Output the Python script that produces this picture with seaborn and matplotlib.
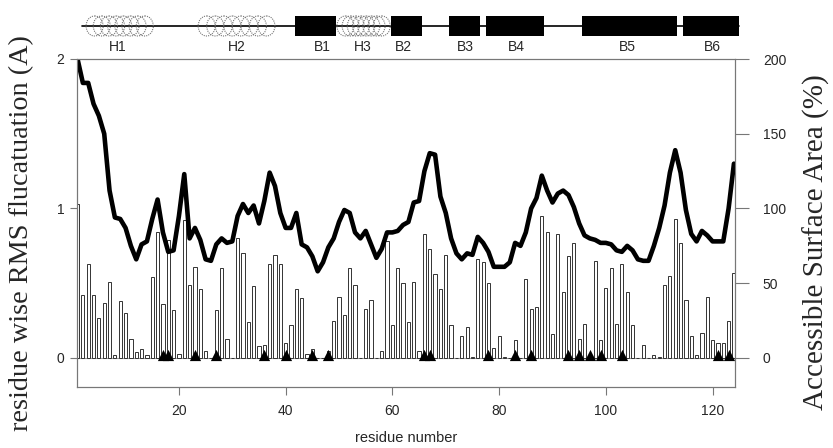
import numpy as np
import matplotlib
matplotlib.use("Agg")
import matplotlib.pyplot as plt
from matplotlib.patches import Rectangle, Ellipse
import seaborn as sns

# residue numbers 1..124
residues = np.arange(1, 125)

# accessible surface area per residue (%)
asa = [103, 42, 63, 42, 27, 37, 51, 2, 38, 30,
       13, 4, 6, 2, 54, 84, 36, 79, 32, 3,
       92, 49, 61, 46, 5, 0, 32, 60, 13, 0,
       80, 70, 24, 48, 8, 9, 63, 69, 63, 10,
       22, 46, 40, 3, 6, 0, 0, 5, 25, 41,
       29, 60, 49, 0, 33, 39, 0, 5, 78, 22,
       60, 50, 24, 51, 5, 83, 73, 56, 46, 69,
       22, 0, 15, 21, 1, 66, 64, 50, 7, 15,
       1, 0, 12, 0, 53, 33, 34, 95, 84, 16,
       83, 44, 68, 77, 13, 23, 0, 65, 12, 47,
       60, 23, 63, 44, 22, 0, 9, 0, 2, 1,
       49, 55, 93, 77, 39, 15, 2, 17, 41, 12,
       10, 10, 25, 57]

# residue wise RMS fluctuation (A)
rms = [2.00, 1.84, 1.84, 1.70, 1.62, 1.50, 1.12, 0.94, 0.93, 0.87,
       0.75, 0.66, 0.76, 0.78, 0.93, 1.06, 0.84, 0.71, 0.72, 0.95,
       1.23, 0.80, 0.87, 0.79, 0.66, 0.65, 0.76, 0.80, 0.77, 0.78,
       0.95, 1.03, 0.97, 1.02, 0.90, 1.05, 1.24, 1.15, 0.97, 0.87,
       0.87, 0.97, 0.76, 0.74, 0.68, 0.58, 0.64, 0.74, 0.80, 0.91,
       0.99, 0.97, 0.84, 0.80, 0.85, 0.76, 0.67, 0.73, 0.84, 0.84,
       0.85, 0.89, 0.91, 1.04, 1.05, 1.25, 1.37, 1.36, 1.08, 0.97,
       0.80, 0.70, 0.66, 0.70, 0.69, 0.81, 0.77, 0.71, 0.61, 0.61,
       0.61, 0.64, 0.77, 0.75, 0.84, 1.00, 1.07, 1.22, 1.12, 1.04,
       1.10, 1.12, 1.09, 1.01, 0.90, 0.82, 0.80, 0.79, 0.77, 0.77,
       0.76, 0.72, 0.71, 0.75, 0.72, 0.66, 0.65, 0.65, 0.75, 0.87,
       1.02, 1.24, 1.39, 1.24, 0.99, 0.83, 0.78, 0.85, 0.82, 0.78,
       0.78, 0.78, 1.00, 1.30]

# residues marked with triangles
marked = [17, 18, 23, 27, 36, 40, 45, 48, 66, 67, 78, 83, 86,
          93, 95, 97, 99, 103, 121, 123]

# secondary structure elements
ss_names = ["H1", "H2", "B1", "H3", "B2", "B3", "B4", "B5", "B6"]
ss_kind = ["helix", "helix", "strand", "helix", "strand", "strand", "strand", "strand", "strand"]
ss_start = [2.6, 23.6, 41.8, 49.6, 59.7, 70.6, 77.5, 95.5, 114.4]
ss_end = [15.2, 38.0, 49.4, 59.6, 65.5, 76.4, 88.4, 113.3, 125.0]
ss_label_x = [8.6, 30.9, 46.8, 54.5, 62.0, 73.6, 83.3, 104.1, 119.9]

sns.set_style("white")
plt.rcParams['font.family'] = ['Liberation Sans', 'DejaVu Sans']

fig = plt.figure(figsize=(8.33, 4.48), dpi=100)
L, R, T, B = 77 / 833, 735 / 833, 59 / 448, 387 / 448
ax = fig.add_axes([L, 1 - B, R - L, B - T])
ax2 = ax.twinx()

# bars on the ASA axis
sns.barplot(x=residues, y=asa, native_scale=True, ax=ax2, color="white",
            saturation=1, edgecolor="#333333", linewidth=0.7, width=0.6,
            errorbar=None)
ax2.axhline(0, color="#999999", lw=0.8, zorder=0.5)
sns.scatterplot(x=marked, y=[2] * len(marked), ax=ax2, marker="^", s=65,
                color="black", linewidth=0, zorder=5, legend=False)

# RMS line on top
sns.lineplot(x=residues, y=rms, ax=ax, color="black", linewidth=3.3,
             solid_joinstyle="round", solid_capstyle="round")
ax.set_zorder(ax2.get_zorder() + 1)
ax.patch.set_visible(False)

ax.set_xlim(0.9, 124.2)
ax.set_ylim(-0.194, 2.0)
ax2.set_ylim(-19.4, 200)

ax.set_yticks([0, 1, 2])
ax.set_yticklabels(["0", "1", "2"])
ax2.set_yticks([0, 50, 100, 150, 200])
ax.set_xticks([20, 40, 60, 80, 100, 120])
ax.set_xlabel("")
ax.set_ylabel("")
ax2.set_xlabel("")
ax2.set_ylabel("")

for a in (ax, ax2):
    for s in a.spines.values():
        s.set_color("#777777")
        s.set_linewidth(0.8)
ax.tick_params(axis="y", direction="out", length=5, width=0.8, color="#777777",
               labelsize=10, left=True, pad=4)
ax.tick_params(axis="x", direction="out", length=6, width=0.8, color="#777777",
               labelsize=10, bottom=True, pad=6)
ax2.tick_params(axis="y", direction="out", length=10, width=0.8, color="#777777",
                labelsize=10, right=True, pad=10)

fig.text(406 / 833, 1 - 438 / 448, "residue number", ha="center", va="center", fontsize=10.5)
fig.text(22 / 833, 1 - 233 / 448, "residue wise RMS flucatuation (A)", rotation=90,
         ha="center", va="center", fontsize=20.3, family="Liberation Serif")
fig.text(816 / 833, 1 - 242 / 448, "Accessible Surface Area (%)", rotation=90,
         ha="center", va="center", fontsize=21, family="Liberation Serif")

# secondary structure strip
axt = fig.add_axes([L, 1 - 56 / 448, R - L, 46 / 448])
axt.set_xlim(ax.get_xlim())
axt.set_ylim(46, 0)
axt.axis("off")
axt.plot([1.9, 125], [16, 16], color="black", lw=1.2, clip_on=False, zorder=1)
for name, kind, s, e, lx in zip(ss_names, ss_kind, ss_start, ss_end, ss_label_x):
    if kind == "strand":
        axt.add_patch(Rectangle((s, 6), e - s, 20, facecolor="black",
                                edgecolor="none", clip_on=False, zorder=2))
    else:
        for cx in np.linspace(s + 1.6, e - 1.6, 8):
            axt.add_patch(Ellipse((cx, 16), 3.2, 20, fill=False, ls=(0, (1, 1)),
                                  edgecolor="#777777", lw=0.8, clip_on=False, zorder=2))
    axt.text(lx, 37, name, ha="center", va="center", fontsize=10)

fig.savefig("out.png", dpi=100)
